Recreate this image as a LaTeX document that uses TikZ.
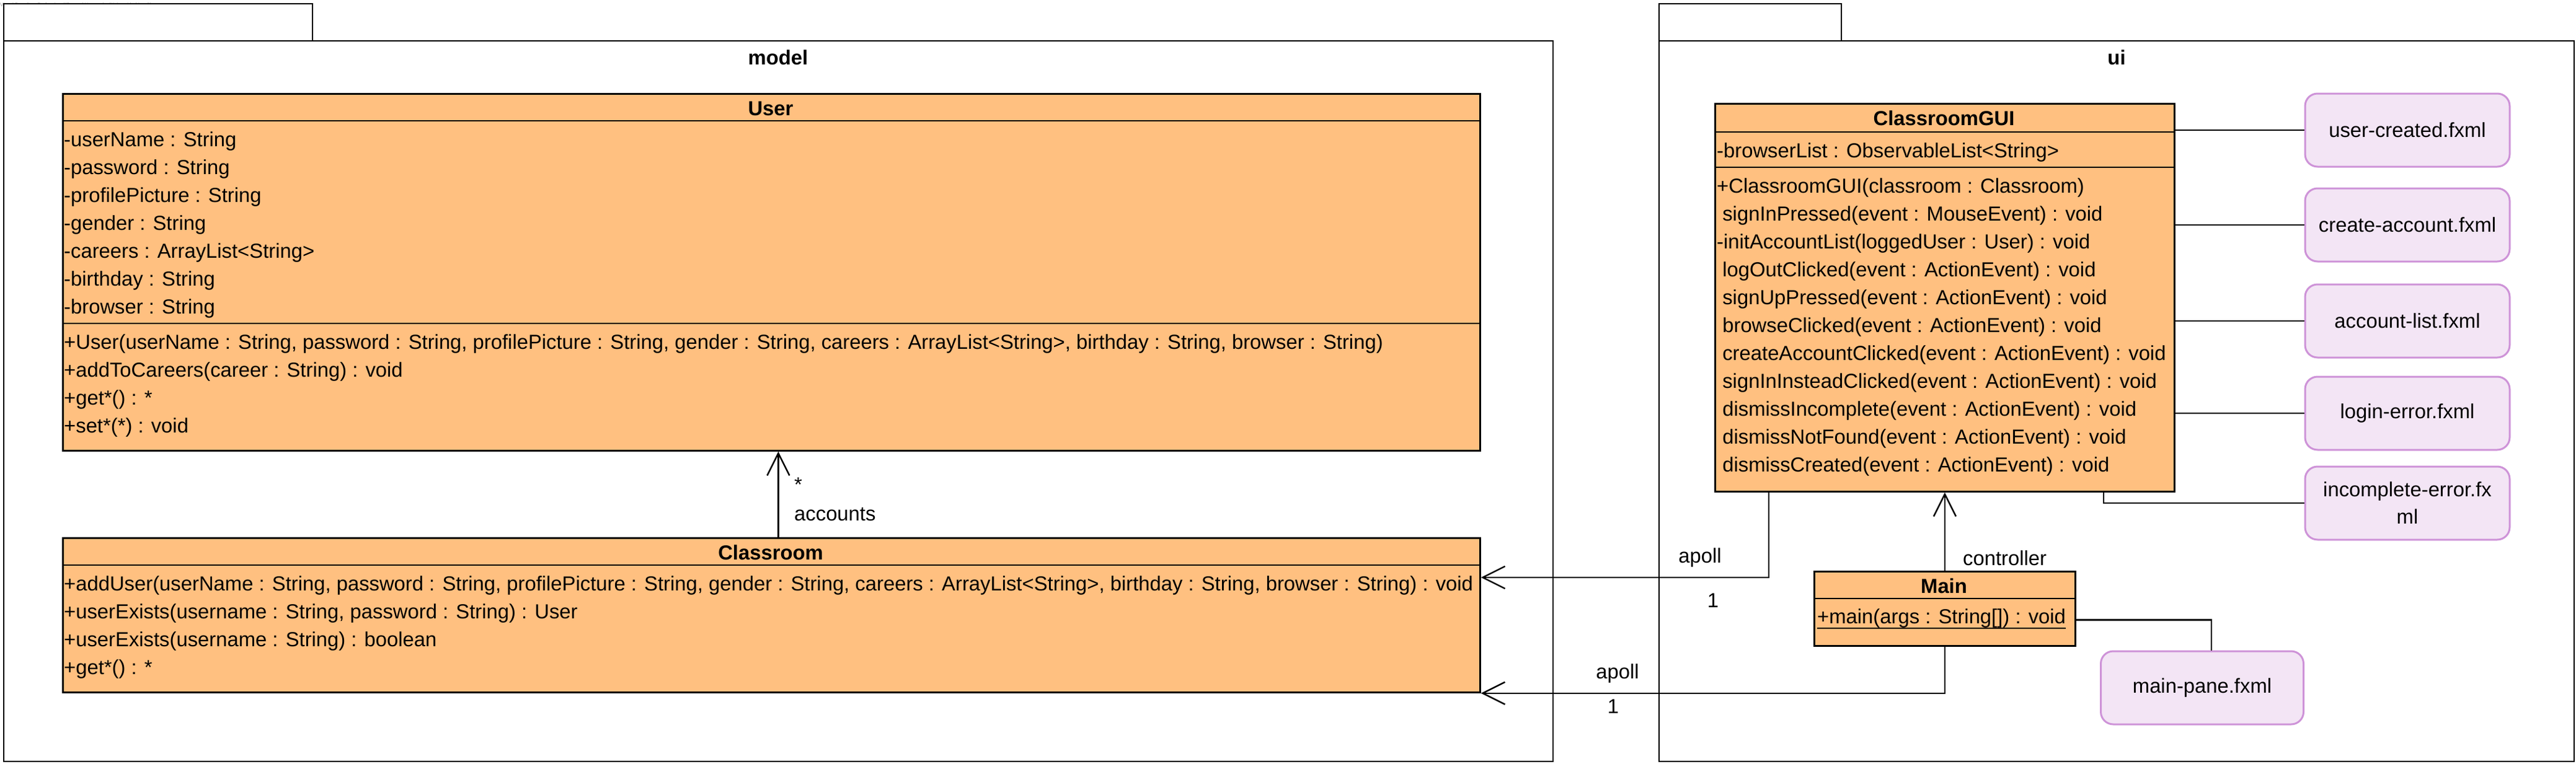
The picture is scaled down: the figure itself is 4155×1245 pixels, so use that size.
\documentclass[tikz,border=0pt]{standalone}
\usepackage{fontspec}
\setmainfont{Liberation Sans}
\usetikzlibrary{arrows.meta,calc}
\definecolor{clsfill}{RGB}{255,192,128}
\definecolor{fxfill}{RGB}{243,229,245}
\definecolor{fxdraw}{RGB}{206,147,216}
\definecolor{wmark}{RGB}{160,160,160}
\begin{document}
\begin{tikzpicture}[x=1pt,y=-1pt,
  pkg/.style={draw,line width=2.6pt,fill=white},
  cls/.style={draw,line width=2.8pt,fill=clsfill,inner sep=0pt,anchor=north west},
  sepline/.style={line width=2.8pt},
  row/.style={anchor=base west,inner sep=0pt,font=\fontsize{32.8}{40}\selectfont},
  title/.style={anchor=base,inner sep=0pt,font=\fontsize{32.8}{40}\selectfont\bfseries},
  fx/.style={draw=fxdraw,fill=fxfill,line width=3pt,rounded corners=20pt,minimum width=330pt,minimum height=118pt,inner sep=0pt,font=\fontsize{32.8}{44}\selectfont,align=center},
  link/.style={line width=2.8pt},
  assoc/.style={line width=2.4pt,-{Straight Barb[length=36pt,width=36pt,line width=2.4pt]}},
  lbl/.style={inner sep=0pt,font=\fontsize{32.8}{40}\selectfont}
]
\useasboundingbox (0,0) rectangle (4155,1245);
\fill[white] (0,0) rectangle (4155,1245);

% watermark
\node[anchor=base west,inner sep=0pt,text=wmark,font=\fontsize{8}{9}\selectfont] (wm) at (0,10) {Visual Paradigm Professional(Samuel Hernandez(Universidad Icesi))};

% packages
\draw[pkg] (6,6) rectangle (504,66);
\draw[pkg] (6,66) rectangle (2505,1229);
\node[title] (modelname) at (1255,104) {model};
\draw[pkg] (2676,6) rectangle (2970,66);
\draw[pkg] (2676,66) rectangle (4152,1229);
\node[title] (uiname) at (3414,104) {ui};

% User
\node[cls,minimum width=2286pt,minimum height=576pt] (user) at (100,150) {};
\draw[sepline] (100,195) -- (2386,195);
\draw[sepline] (100,522) -- (2386,522);
\node[title] (usertitle) at (1243,186) {User};
\foreach \t [count=\i from 0] in {{-userName : String},{-password : String},{-profilePicture : String},{-gender : String},{-careers : ArrayList<String>},{-birthday : String},{-browser : String}}
  \node[row] (ua\i) at (103,236+45*\i) {\t};
\foreach \t [count=\i from 0] in {{+User(userName : String, password : String, profilePicture : String, gender : String, careers : ArrayList<String>, birthday : String, browser : String)},{+addToCareers(career : String) : void},{+get*() : *},{+set*(*) : void}}
  \node[row] (um\i) at (103,563+45*\i) {\t};

% Classroom
\node[cls,minimum width=2286pt,minimum height=249pt] (classroom) at (100,867) {};
\draw[sepline] (100,912) -- (2386,912);
\node[title] (classtitle) at (1243,903) {Classroom};
\foreach \t [count=\i from 0] in {{+addUser(userName : String, password : String, profilePicture : String, gender : String, careers : ArrayList<String>, birthday : String, browser : String) : void},{+userExists(username : String, password : String) : User},{+userExists(username : String) : boolean},{+get*() : *}}
  \node[row] (cm\i) at (103,953+45*\i) {\t};

% ClassroomGUI
\node[cls,minimum width=741pt,minimum height=626pt] (gui) at (2765,166) {};
\draw[sepline] (2765,213) -- (3506,213);
\draw[sepline] (2765,270) -- (3506,270);
\node[title] (guititle) at (3135.5,202) {ClassroomGUI};
\node[row] (ga0) at (2769,254) {-browserList : ObservableList<String>};
\foreach \t [count=\i from 0] in {{+ClassroomGUI(classroom : Classroom)},{\ signInPressed(event : MouseEvent) : void},{-initAccountList(loggedUser : User) : void},{\ logOutClicked(event : ActionEvent) : void},{\ signUpPressed(event : ActionEvent) : void},{\ browseClicked(event : ActionEvent) : void},{\ createAccountClicked(event : ActionEvent) : void},{\ signInInsteadClicked(event : ActionEvent) : void},{\ dismissIncomplete(event : ActionEvent) : void},{\ dismissNotFound(event : ActionEvent) : void},{\ dismissCreated(event : ActionEvent) : void}}
  \node[row] (gm\i) at (2769,311+45*\i) {\t};

% Main
\node[cls,minimum width=421pt,minimum height=120pt] (main) at (2925,921) {};
\draw[sepline] (2925,966) -- (3346,966);
\node[title] (maintitle) at (3135.5,957) {Main};
\node[row] (mm) at (2931,1006) {+main(args : String[]) : void};
\draw[line width=2.6pt] ([yshift=-8pt]mm.base west) -- ([yshift=-8pt]mm.base east);

% fxml files
\node[fx] (uc) at (3883,210) {user-created.fxml};
\node[fx] (ca) at (3883,363) {create-account.fxml};
\node[fx] (al) at (3883,518) {account-list.fxml};
\node[fx] (le) at (3883,667) {login-error.fxml};
\node[fx] (ie) at (3883,812) {incomplete-error.fx\\ml};
\node[fx,minimum width=327pt] (mp) at (3552,1110) {main-pane.fxml};

% links to fxml
\draw[link] (gui.east |- uc.west) -- (uc.west);
\draw[link] (gui.east |- ca.west) -- (ca.west);
\draw[link] (gui.east |- al.west) -- (al.west);
\draw[link] (gui.east |- le.west) -- (le.west);
\draw[link] ($(gui.south west)+(628,0)$) |- (ie.west);
\draw[link] ($(main.east)+(0,18)$) -| ($(mp.north)+(15,0)$);

% associations
\draw[assoc] ($(classroom.north)+(11,0)$) -- ($(user.south)+(11,0)$);
\node[lbl,anchor=base west] (star) at (1281,793) {*};
\node[lbl,anchor=base west] (accounts) at (1281,840) {accounts};

\draw[assoc] (main.north) -- (gui.south);
\node[lbl,anchor=base west] (controller) at (3166,912) {controller};

\draw[assoc] ($(gui.south west)+(88,0)$) |- ($(classroom.north east)+(0,65)$);
\node[lbl,anchor=base] (apoll1) at (2742,908) {apoll};
\node[lbl,anchor=base] (one1) at (2763,980) {1};

\draw[assoc] (main.south) |- (classroom.south east);
\node[lbl,anchor=base] (apoll2) at (2609,1095) {apoll};
\node[lbl,anchor=base] (one2) at (2602,1151) {1};
\end{tikzpicture}
\end{document}
